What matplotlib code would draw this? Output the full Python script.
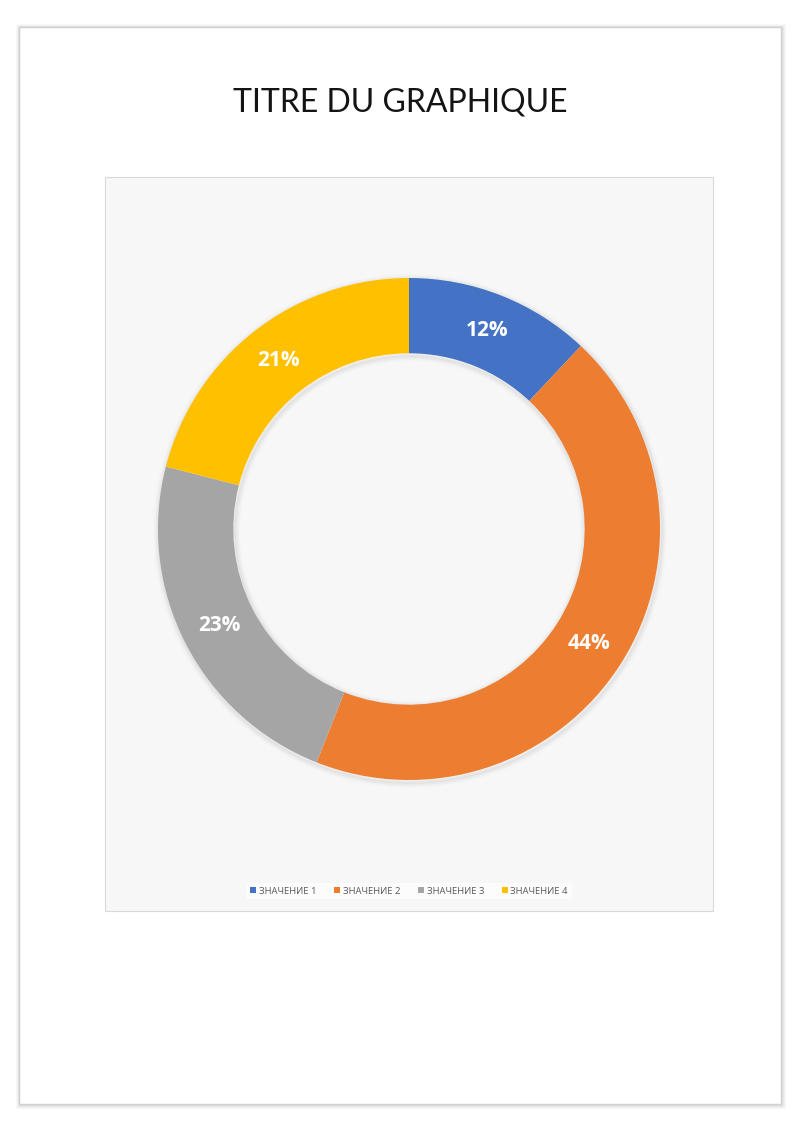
import matplotlib
matplotlib.use("Agg")
import matplotlib.pyplot as plt
from matplotlib.patches import Rectangle, Circle

# data
labels = ["ЗНАЧЕНИЕ 1", "ЗНАЧЕНИЕ 2", "ЗНАЧЕНИЕ 3", "ЗНАЧЕНИЕ 4"]
values = [12, 44, 23, 21]
colors = ["#4472C4", "#ED7D31", "#A5A5A5", "#FFC000"]
title = "TITRE DU GRAPHIQUE"

W, H = 800, 1131
plt.rcParams["hatch.linewidth"] = 0.8

fig = plt.figure(figsize=(W / 100, H / 100), dpi=100)
fig.patch.set_facecolor("white")


def px_rect(x0, y0, x1, y1, **kw):
    """rectangle given in pixel coords from the top-left corner"""
    return Rectangle((x0 / W, 1 - y1 / H), (x1 - x0) / W, (y1 - y0) / H,
                     transform=fig.transFigure, **kw)


# page frame with a soft shadow
for i, a in enumerate([0.10, 0.07, 0.04, 0.02]):
    fig.patches.append(px_rect(19 - i, 27 - i, 781 + i + 1, 1104 + i + 1,
                               fill=False, edgecolor="black", alpha=a,
                               linewidth=1.0, zorder=0))
fig.patches.append(px_rect(19, 27, 781, 1104, facecolor="white",
                           edgecolor="#d0d0d0", linewidth=1.0, zorder=0))

# chart area: light grey with fine diagonal stripes
fig.patches.append(px_rect(105, 177, 713, 911, facecolor="#ececec",
                           edgecolor="#f8f8f8", linewidth=0, hatch="\\" * 20,
                           zorder=1))
fig.patches.append(px_rect(105, 177, 713, 911, fill=False,
                           edgecolor="#d9d9d9", linewidth=0.8, zorder=1))

# title
fig.text(400 / W, 1 - 103 / H, title, ha="center", va="center",
         fontsize=23, family="Lato", fontweight="normal", color="#141414")

# donut
cx, cy, r = 409, 529, 251
ax = fig.add_axes([(cx - r) / W, (H - cy - r) / H, 2 * r / W, 2 * r / H])
ax.set_zorder(2)

# soft shadow under the ring (outer and inner rims)
for i, a in enumerate([0.045, 0.03, 0.018, 0.008]):
    ax.add_patch(Circle((0.004, -0.008), 1.0 + 0.006 * i, fill=False,
                        edgecolor="black", alpha=a, linewidth=2.5,
                        zorder=0, clip_on=False))

wedges, texts, autotexts = ax.pie(
    values, colors=colors, startangle=90, counterclock=False,
    radius=1.0, autopct="%d%%", pctdistance=0.85,
    wedgeprops=dict(width=0.30, edgecolor="none", zorder=2),
    textprops=dict(color="white", fontsize=15, fontweight="bold",
                   family="Open Sans"))
for i, a in enumerate([0.045, 0.03, 0.018, 0.008]):
    ax.add_patch(Circle((0.004, -0.008), 0.70 - 0.006 * i, fill=False,
                        edgecolor="black", alpha=a, linewidth=2.5,
                        zorder=1, clip_on=False))
ax.set_xlim(-1, 1)
ax.set_ylim(-1, 1)
ax.set_aspect("equal")
ax.axis("off")

# legend
leg = fig.legend(wedges, labels, loc="center", ncol=4,
                 bbox_to_anchor=(409 / W, 1 - 891 / H),
                 prop=dict(family="Open Sans", size=6.8),
                 handlelength=0.6, handleheight=0.6, handletextpad=0.3,
                 columnspacing=1.9, frameon=True, fancybox=False,
                 borderpad=0.4)
leg.get_frame().set_facecolor("white")
leg.get_frame().set_alpha(0.7)
leg.get_frame().set_linewidth(0)
leg.set_zorder(3)
for t in leg.get_texts():
    t.set_color("#595959")

fig.savefig("out.png", dpi=100, facecolor="white")
